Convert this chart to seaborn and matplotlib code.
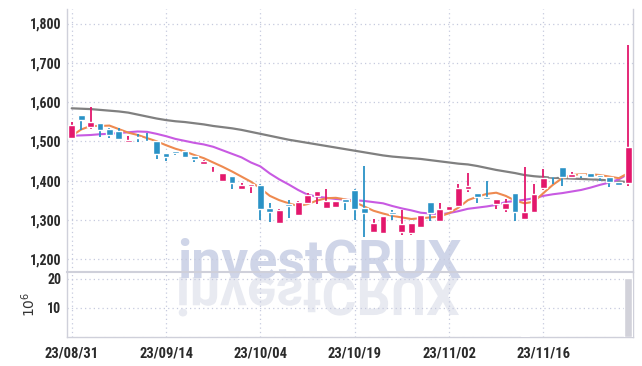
#recreating the candle chart with moving averages and volume panel

import numpy as np
import pandas as pd
import seaborn as sns
import matplotlib.pyplot as plt
from matplotlib import font_manager
from matplotlib.textpath import TextPath
from matplotlib.patches import PathPatch
from matplotlib.transforms import Affine2D
from matplotlib.font_manager import FontProperties
from matplotlib.ticker import FuncFormatter

# trading days (23/08/31 .. 23/11/29)
dates = ["23/08/31", "23/09/01", "23/09/04", "23/09/05", "23/09/06", "23/09/07", "23/09/08",
         "23/09/11", "23/09/12", "23/09/13", "23/09/14", "23/09/15", "23/09/18", "23/09/19",
         "23/09/20", "23/09/21", "23/09/22", "23/09/25", "23/09/26", "23/09/27", "23/10/04",
         "23/10/05", "23/10/06", "23/10/10", "23/10/11", "23/10/12", "23/10/13", "23/10/16",
         "23/10/17", "23/10/18", "23/10/19", "23/10/20", "23/10/23", "23/10/24", "23/10/25",
         "23/10/26", "23/10/27", "23/10/30", "23/10/31", "23/11/01", "23/11/02", "23/11/03",
         "23/11/06", "23/11/07", "23/11/08", "23/11/09", "23/11/10", "23/11/13", "23/11/14",
         "23/11/15", "23/11/16", "23/11/17", "23/11/20", "23/11/21", "23/11/22", "23/11/23",
         "23/11/24", "23/11/27", "23/11/28", "23/11/29"]

opens = [1509, 1567, 1537, 1546, 1531, 1526, 1499, 1510, 1501, 1500,
         1469, 1474, 1474, 1463, 1443, 1419, 1400, 1412, 1379, 1386,
         1389, 1331, 1291, 1340, 1311, 1344, 1361, 1330, 1332, 1354,
         1376, 1330, 1270, 1267, 1321, 1270, 1267, 1281, 1345, 1298,
         1325, 1336, 1378, 1369, 1357, 1340, 1328, 1369, 1302, 1321,
         1382, 1414, 1435, 1410, 1417, 1419, 1413, 1410, 1397, 1395]
highs = [1548, 1567, 1587, 1546, 1533, 1533, 1514, 1518, 1522, 1500,
         1469, 1476, 1474, 1463, 1452, 1435, 1420, 1412, 1393, 1391,
         1390, 1344, 1328, 1351, 1347, 1368, 1374, 1378, 1348, 1354,
         1378, 1437, 1302, 1310, 1325, 1325, 1292, 1311, 1345, 1342,
         1336, 1391, 1420, 1369, 1400, 1353, 1352, 1369, 1434, 1391,
         1430, 1414, 1435, 1421, 1417, 1419, 1413, 1410, 1397, 1745]
lows = [1508, 1529, 1531, 1510, 1508, 1505, 1499, 1499, 1499, 1454,
        1450, 1465, 1458, 1448, 1443, 1416, 1400, 1378, 1379, 1369,
        1300, 1294, 1291, 1304, 1311, 1344, 1340, 1330, 1332, 1325,
        1300, 1256, 1270, 1267, 1300, 1262, 1262, 1281, 1298, 1298,
        1325, 1336, 1372, 1342, 1353, 1327, 1321, 1298, 1302, 1321,
        1376, 1391, 1387, 1410, 1406, 1410, 1400, 1383, 1385, 1385]
closes = [1541, 1554, 1548, 1530, 1516, 1505, 1504, 1508, 1499, 1468,
          1461, 1470, 1461, 1456, 1450, 1421, 1418, 1395, 1388, 1391,
          1328, 1321, 1325, 1334, 1345, 1363, 1374, 1348, 1348, 1346,
          1328, 1318, 1293, 1310, 1315, 1290, 1292, 1311, 1317, 1327,
          1336, 1380, 1385, 1359, 1353, 1353, 1344, 1320, 1321, 1366,
          1407, 1412, 1410, 1417, 1414, 1410, 1410, 1397, 1389, 1485]

# moving averages
ma_short = [1514, 1530, 1539, 1539, 1540, 1531, 1522, 1516, 1508, 1500,
            1490, 1481, 1474, 1465, 1457, 1446, 1435, 1423, 1410, 1397,
            1380, 1361, 1350, 1342, 1335, 1340, 1349, 1355, 1356, 1352,
            1345, 1334, 1323, 1316, 1310, 1306, 1302, 1304, 1306, 1308,
            1317, 1331, 1350, 1359, 1366, 1369, 1361, 1349, 1342, 1346,
            1368, 1389, 1406, 1414, 1416, 1416, 1414, 1410, 1406, 1419]
ma_mid = [1514, 1515, 1516, 1518, 1519, 1521, 1523, 1525, 1524, 1519,
          1513, 1506, 1501, 1496, 1492, 1486, 1477, 1468, 1459, 1446,
          1436, 1418, 1403, 1390, 1376, 1364, 1359, 1356, 1353, 1351,
          1350, 1348, 1345, 1342, 1335, 1329, 1324, 1318, 1316, 1314,
          1317, 1322, 1328, 1331, 1334, 1338, 1345, 1348, 1351, 1355,
          1361, 1365, 1368, 1372, 1376, 1382, 1389, 1395, 1403, 1417]
ma_long = [1584, 1583, 1582, 1580, 1578, 1576, 1573, 1568, 1563, 1558,
           1554, 1551, 1549, 1546, 1543, 1539, 1536, 1533, 1529, 1524,
           1519, 1514, 1509, 1504, 1500, 1496, 1492, 1488, 1484, 1480,
           1476, 1472, 1468, 1464, 1461, 1459, 1457, 1455, 1452, 1449,
           1446, 1443, 1441, 1437, 1432, 1427, 1423, 1419, 1414, 1411,
           1409, 1407, 1406, 1405, 1404, 1403, 1402, 1400, 1398, 1396]

# volume in millions (only two bars are visible)
volume = [0] * 60
volume[48] = 0.4
volume[59] = 20.3

price_ticks = [1200, 1300, 1400, 1500, 1600, 1700, 1800]
volume_ticks = [10, 20]
label_idx = [0, 10, 20, 30, 40, 50]

UP = "#e3176c"
DOWN = "#2a92c6"
GRID = "#c6cade"
SPINE = "#cfd0da"


def pick_font(names):
    avail = {f.name for f in font_manager.fontManager.ttflist}
    for n in names:
        if n in avail:
            return n
    return "DejaVu Sans"


sns.set_theme(style="white")
tick_font = pick_font(["Roboto Condensed", "Liberation Sans Narrow", "Open Sans Condensed",
                       "Roboto", "DejaVu Sans"])
plt.rcParams["font.family"] = [tick_font, "DejaVu Sans"]

df = pd.DataFrame({"i": np.arange(len(dates)), "date": dates, "open": opens, "high": highs,
                   "low": lows, "close": closes, "ma_s": ma_short, "ma_m": ma_mid,
                   "ma_l": ma_long, "vol": volume})

W, H = 642, 366
fig = plt.figure(figsize=(W / 100, H / 100), dpi=100)
ax = fig.add_axes([67 / W, (H - 272) / H, 566 / W, 263 / H])
axv = fig.add_axes([67 / W, (H - 337) / H, 566 / W, 65 / H], sharex=ax)
for a in (ax, axv):
    a.set_facecolor("none")

# watermark + reflection
wm_font = FontProperties(family=pick_font(["Roboto", "Lato", "DejaVu Sans"]), weight="bold")
wm_size = 38.5
fig.text(319 / W, (H - 277) / H, "investCRUX", fontproperties=wm_font, fontsize=wm_size,
         color="#cfd5e8", ha="center", va="baseline", zorder=-5)
tp = TextPath((0, 0), "investCRUX", size=wm_size, prop=wm_font)
ext = tp.get_extents()
x0 = 319 / 100 - (ext.x0 + ext.width / 2) / 72
y0 = (H - 277) / 100
tr = Affine2D().scale(1 / 72, -1 / 72).translate(x0, y0) + fig.dpi_scale_trans
fig.patches.append(PathPatch(tp, transform=tr, facecolor="#e8eaf1", edgecolor="none",
                             zorder=-6, figure=fig))

# grids
for a in (ax, axv):
    a.grid(True, axis="both", linestyle=(0, (1, 2.5)), color=GRID, linewidth=0.9)
    a.set_axisbelow(True)

# moving averages
sns.lineplot(data=df, x="i", y="ma_l", ax=ax, color="#808080", linewidth=1.6, zorder=3)
sns.lineplot(data=df, x="i", y="ma_m", ax=ax, color="#c85ae2", linewidth=1.5, zorder=3)
sns.lineplot(data=df, x="i", y="ma_s", ax=ax, color="#ee8a50", linewidth=1.5, zorder=3)

# candles
up = df["close"] >= df["open"]
colors = np.where(up, UP, DOWN)
body_lo = np.minimum(df["open"], df["close"])
body_h = np.maximum(np.abs(df["close"] - df["open"]), 1.5)
ax.vlines(df["i"], df["low"], df["high"], colors=colors, linewidth=1.3, zorder=4)
ax.bar(df["i"], body_h, bottom=body_lo, width=0.72, color=colors, zorder=5)

# volume
axv.bar(df["i"], df["vol"], width=0.85, color="#d2d2da", zorder=3)

ax.set_xlim(-0.5, 59.5)
ax.set_ylim(1167, 1837)
axv.set_ylim(0, 22.4)

ax.set_yticks(price_ticks)
ax.yaxis.set_major_formatter(FuncFormatter(lambda v, p: f"{v:,.0f}"))
axv.set_yticks(volume_ticks)
axv.set_xticks(label_idx)
axv.set_xticklabels([dates[i] for i in label_idx])
ax.tick_params(axis="x", labelbottom=False, length=0)
for a in (ax, axv):
    a.tick_params(axis="y", length=0, pad=4, labelsize=10, labelcolor="#2a2a2a")
    for lab in a.get_yticklabels():
        lab.set_fontweight("bold")
axv.tick_params(axis="x", length=0, pad=7, labelsize=10.5, labelcolor="#2a2a2a")
for lab in axv.get_xticklabels():
    lab.set_fontweight("bold")
ax.set_xlabel("")
ax.set_ylabel("")
axv.set_xlabel("")
axv.set_ylabel(r"$10^6$", fontsize=10, color="#333333", labelpad=7)

for a in (ax, axv):
    for s in a.spines.values():
        s.set_color(SPINE)
        s.set_linewidth(1.0)
ax.spines["top"].set_visible(False)
ax.spines["bottom"].set_linewidth(1.5)
axv.spines["top"].set_visible(False)

fig.savefig("out.png", dpi=100)
plt.close(fig)
